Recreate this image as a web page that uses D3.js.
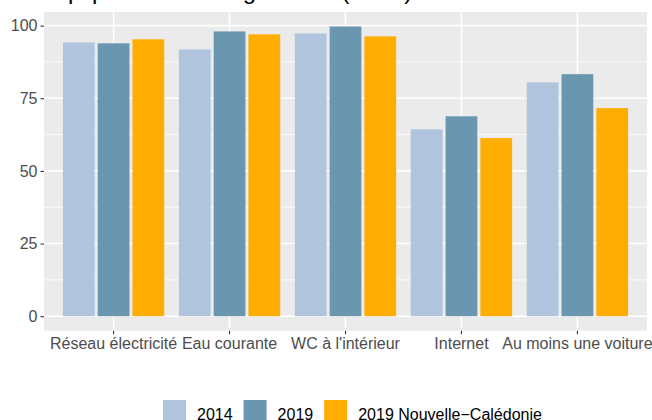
<!DOCTYPE html>
<html lang="fr">

<head>
    <meta charset="UTF-8">
    <title>Équipement des logements</title>
    <style>
        body { margin: 0; background: #fff; }
        text { font-family: "Liberation Sans", Arial, sans-serif; }
    </style>
</head>

<body>
    <div id="my_dataviz"></div>

    <script src="https://d3js.org/d3.v7.min.js"></script>
    <script>

        // data
        const categories = ["Réseau électricité", "Eau courante", "WC à l'intérieur", "Internet", "Au moins une voiture"];
        const seriesNames = ["2014", "2019", "2019 Nouvelle−Calédonie"];
        const values2014 = [94.2, 91.8, 97.3, 64.3, 80.5];
        const values2019 = [93.9, 98.0, 99.7, 68.8, 83.3];
        const valuesNC = [95.3, 97.0, 96.3, 61.3, 71.6];
        const yTicks = [0, 25, 50, 75, 100];
        const colors = ["#B0C4DE", "#6A96B0", "#FFAD00"];

        const seriesValues = [values2014, values2019, valuesNC];

        // dimensions
        const width = 652, height = 420;
        const panel = { left: 44, right: 647, top: 12, bottom: 330.7 };

        const svg = d3.select("#my_dataviz")
            .append("svg")
            .attr("width", width)
            .attr("height", height);

        // title, mostly cut off above the top edge
        svg.append("text")
            .attr("x", panel.left)
            .attr("y", -1.5)
            .style("font-size", "24px")
            .style("fill", "#000")
            .text("Équipement des logements (en %)");

        // X scale: discrete, ggplot style expansion of 0.6
        const x = d3.scaleBand()
            .domain(categories)
            .range([panel.left, panel.right])
            .paddingOuter(0.1)
            .paddingInner(0);
        const step = x.step();
        const cx = d => x(d) + step / 2;

        // Y scale, 5% expansion on each side
        const yMax = d3.max(seriesValues.flat());
        const y = d3.scaleLinear()
            .domain([-0.05 * yMax, yMax * 1.05])
            .range([panel.bottom, panel.top]);

        // panel background
        svg.append("rect")
            .attr("x", panel.left)
            .attr("y", panel.top)
            .attr("width", panel.right - panel.left)
            .attr("height", panel.bottom - panel.top)
            .attr("fill", "#EBEBEB");

        // minor horizontal grid
        const minor = d3.range(12.5, 100, 25);
        svg.append("g")
            .selectAll("line")
            .data(minor)
            .join("line")
            .attr("x1", panel.left)
            .attr("x2", panel.right)
            .attr("y1", d => y(d))
            .attr("y2", d => y(d))
            .attr("stroke", "#fff")
            .attr("stroke-width", 0.8);

        // major grid
        svg.append("g")
            .selectAll("line")
            .data(yTicks)
            .join("line")
            .attr("x1", panel.left)
            .attr("x2", panel.right)
            .attr("y1", d => y(d))
            .attr("y2", d => y(d))
            .attr("stroke", "#fff")
            .attr("stroke-width", 1.6);

        svg.append("g")
            .selectAll("line")
            .data(categories)
            .join("line")
            .attr("x1", d => cx(d))
            .attr("x2", d => cx(d))
            .attr("y1", panel.top)
            .attr("y2", panel.bottom)
            .attr("stroke", "#fff")
            .attr("stroke-width", 1.6);

        // bars, dodged by 0.3 of a category
        const barW = 0.274 * step;
        seriesValues.forEach(function (vals, j) {
            svg.append("g")
                .selectAll("rect")
                .data(vals)
                .join("rect")
                .attr("x", (d, i) => cx(categories[i]) + (j - 1) * 0.3 * step - barW / 2)
                .attr("y", d => y(d))
                .attr("width", barW)
                .attr("height", d => y(0) - y(d))
                .attr("fill", colors[j]);
        });

        // Y axis
        const yAxis = svg.append("g")
            .attr("transform", `translate(${panel.left}, 0)`)
            .call(d3.axisLeft(y).tickValues(yTicks).tickSize(3.5).tickPadding(3));
        yAxis.select(".domain").remove();
        yAxis.selectAll("line").attr("stroke", "#333").attr("stroke-width", 1.1);
        yAxis.selectAll("text")
            .style("font-size", "16px")
            .style("font-family", "'Liberation Sans', Arial, sans-serif")
            .attr("fill", "#4D4D4D");

        // X axis
        const xAxis = svg.append("g")
            .attr("transform", `translate(0, ${panel.bottom})`)
            .call(d3.axisBottom(x).tickSize(3.5).tickPadding(3));
        xAxis.select(".domain").remove();
        xAxis.selectAll("line").attr("stroke", "#333").attr("stroke-width", 1.1);
        xAxis.selectAll("text")
            .style("font-size", "16px")
            .style("font-family", "'Liberation Sans', Arial, sans-serif")
            .attr("fill", "#4D4D4D");

        // legend at the bottom
        const legend = svg.append("g");
        let lx = 163;
        seriesNames.forEach(function (name, j) {
            legend.append("rect")
                .attr("x", lx)
                .attr("y", 400)
                .attr("width", 23)
                .attr("height", 23)
                .attr("fill", colors[j]);
            const t = legend.append("text")
                .attr("x", lx + 34)
                .attr("y", 419.5)
                .style("font-size", "16px")
                .style("fill", "#000")
                .text(name);
            lx += 34 + t.node().getComputedTextLength() + 11;
        });

    </script>


</body>

</html>
